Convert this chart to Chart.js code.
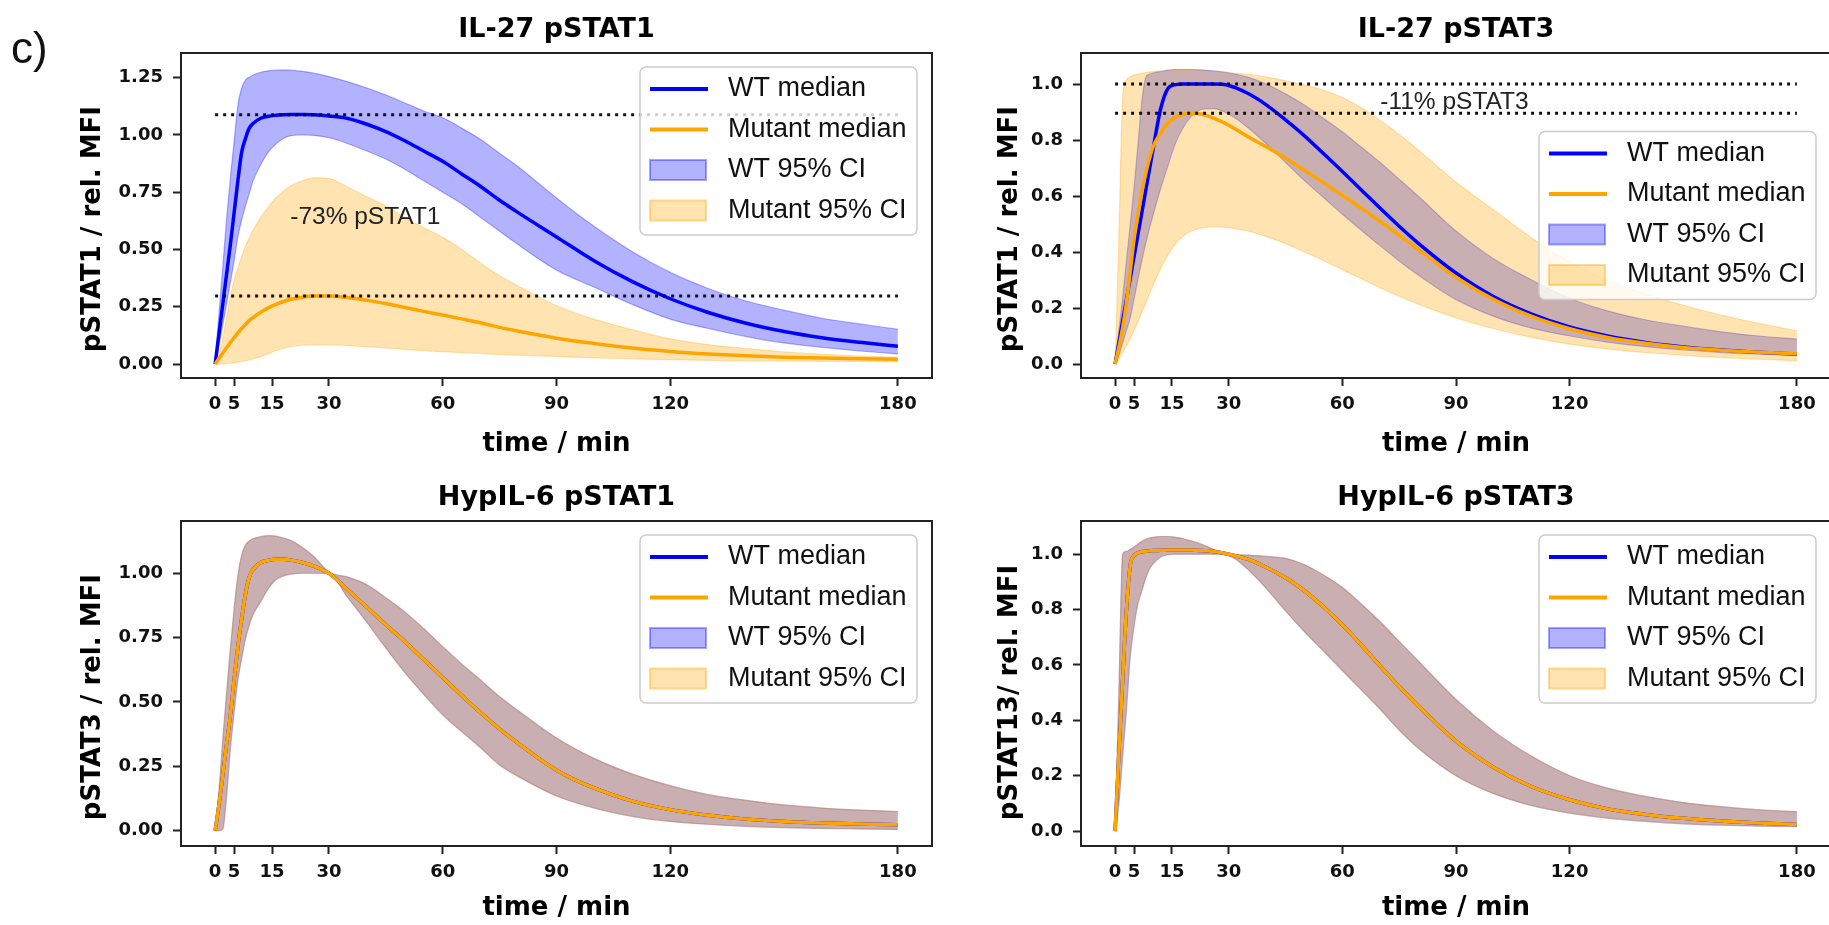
<!DOCTYPE html>
<html>
<head>
<meta charset="utf-8">
<script src="https://cdn.jsdelivr.net/npm/chart.js@4.4.0/dist/chart.umd.min.js"></script>
<style>
  body { margin: 0; background: #fff; overflow: hidden; }
  #fig { position: relative; width: 1829px; height: 925px; overflow: hidden; background: #fff; }
  #fig canvas { position: absolute; }
  #tag { position: absolute; left: 11px; top: 26px; font: 44px 'Liberation Sans', Arial, sans-serif; line-height: 44px; color: #111; }
</style>
</head>
<body>
<div id="fig">
  <canvas id="tl" width="940" height="468" style="left:0;top:0"></canvas>
  <canvas id="tr" width="893" height="468" style="left:940px;top:0"></canvas>
  <canvas id="bl" width="940" height="457" style="left:0;top:468px"></canvas>
  <canvas id="br" width="893" height="457" style="left:940px;top:468px"></canvas>
  <div id="tag">c)</div>
</div>
<script>
// sample times (min)
const time = [0, 1, 2, 3, 4, 5, 6, 7, 8, 9, 10, 12, 14, 16, 18, 20, 23, 26, 30,
  35, 40, 45, 50, 55, 60, 65, 70, 75, 80, 90, 100, 110, 120, 130, 140, 150, 160, 170, 180];
const xTicks = [0, 5, 15, 30, 60, 90, 120, 180];
const legendLabels = ['WT median', 'Mutant median', 'WT 95% CI', 'Mutant 95% CI'];

// IL-27 pSTAT1
const il27s1WtMed = [0, 0.13, 0.26, 0.39, 0.52, 0.66, 0.80, 0.925, 0.985, 1.03, 1.05, 1.073, 1.082, 1.086, 1.088, 1.089, 1.089, 1.088, 1.083,
  1.072, 1.047, 1.015, 0.975, 0.93, 0.885, 0.83, 0.775, 0.715, 0.66, 0.555, 0.45, 0.36, 0.285, 0.225, 0.178, 0.142, 0.115, 0.095, 0.078];
const il27s1WtHi = [0, 0.22, 0.42, 0.63, 0.81, 0.97, 1.13, 1.205, 1.24, 1.252, 1.262, 1.274, 1.28, 1.283, 1.284, 1.283, 1.278, 1.27, 1.255,
  1.232, 1.205, 1.175, 1.14, 1.105, 1.075, 1.03, 0.98, 0.92, 0.86, 0.725, 0.6, 0.49, 0.40, 0.33, 0.275, 0.235, 0.2, 0.175, 0.152];
const il27s1WtLo = [0, 0.08, 0.17, 0.26, 0.355, 0.45, 0.555, 0.63, 0.69, 0.745, 0.80, 0.87, 0.925, 0.96, 0.985, 0.997, 1.0, 0.998, 0.988,
  0.962, 0.93, 0.895, 0.85, 0.80, 0.75, 0.70, 0.64, 0.58, 0.52, 0.41, 0.335, 0.26, 0.196, 0.155, 0.12, 0.092, 0.073, 0.057, 0.044];
const il27s1MutMed = [0, 0.024, 0.048, 0.071, 0.094, 0.115, 0.136, 0.155, 0.173, 0.19, 0.203, 0.226, 0.245, 0.26, 0.273, 0.283, 0.292, 0.297, 0.297,
  0.29, 0.278, 0.264, 0.247, 0.23, 0.214, 0.197, 0.18, 0.16, 0.143, 0.113, 0.09, 0.07, 0.055, 0.044, 0.036, 0.03, 0.026, 0.023, 0.021];
const il27s1MutHi = [0, 0.04, 0.11, 0.2, 0.29, 0.365, 0.42, 0.47, 0.515, 0.55, 0.585, 0.64, 0.685, 0.725, 0.755, 0.778, 0.80, 0.813, 0.81,
  0.772, 0.73, 0.69, 0.64, 0.595, 0.553, 0.50, 0.44, 0.385, 0.34, 0.255, 0.195, 0.15, 0.11, 0.085, 0.068, 0.053, 0.043, 0.035, 0.029];
const il27s1MutLo = [0, 0, 0.001, 0.002, 0.004, 0.006, 0.008, 0.011, 0.014, 0.018, 0.022, 0.032, 0.045, 0.058, 0.068, 0.076, 0.082, 0.085, 0.085,
  0.08, 0.075, 0.07, 0.064, 0.058, 0.054, 0.05, 0.046, 0.042, 0.039, 0.033, 0.027, 0.023, 0.019, 0.016, 0.014, 0.013, 0.012, 0.011, 0.01];

// IL-27 pSTAT3
const il27s3WtMed = [0, 0.077, 0.153, 0.23, 0.306, 0.383, 0.46, 0.536, 0.613, 0.69, 0.765, 0.91, 0.985, 0.998, 1.0, 1.0, 1.0, 1.0, 0.995,
  0.967, 0.925, 0.872, 0.815, 0.752, 0.688, 0.622, 0.556, 0.492, 0.432, 0.325, 0.24, 0.178, 0.132, 0.1, 0.077, 0.061, 0.05, 0.042, 0.036];
const il27s3WtHi = [0, 0.12, 0.24, 0.37, 0.5, 0.63, 0.78, 0.93, 1.02, 1.035, 1.04, 1.045, 1.05, 1.052, 1.052, 1.052, 1.05, 1.047, 1.04,
  1.025, 1.0, 0.965, 0.925, 0.878, 0.83, 0.775, 0.72, 0.66, 0.60, 0.475, 0.375, 0.30, 0.235, 0.19, 0.158, 0.135, 0.115, 0.1, 0.089];
const il27s3WtLo = [0, 0.03, 0.075, 0.12, 0.165, 0.23, 0.3, 0.365, 0.425, 0.48, 0.53, 0.625, 0.71, 0.79, 0.845, 0.882, 0.91, 0.912, 0.892,
  0.845, 0.785, 0.72, 0.655, 0.595, 0.535, 0.478, 0.422, 0.368, 0.318, 0.23, 0.17, 0.128, 0.1, 0.078, 0.062, 0.05, 0.041, 0.035, 0.03];
const il27s3MutMed = [0, 0.06, 0.13, 0.22, 0.33, 0.445, 0.53, 0.61, 0.675, 0.73, 0.775, 0.825, 0.862, 0.882, 0.892, 0.896, 0.892, 0.878, 0.853,
  0.813, 0.775, 0.735, 0.692, 0.648, 0.603, 0.557, 0.509, 0.46, 0.41, 0.31, 0.23, 0.17, 0.126, 0.095, 0.074, 0.059, 0.049, 0.042, 0.037];
const il27s3MutHi = [0, 0.45, 0.95, 1.015, 1.025, 1.032, 1.036, 1.039, 1.041, 1.043, 1.045, 1.047, 1.048, 1.05, 1.05, 1.05, 1.048, 1.045, 1.04,
  1.035, 1.025, 1.012, 0.997, 0.978, 0.952, 0.915, 0.87, 0.82, 0.765, 0.65, 0.55, 0.45, 0.365, 0.3, 0.25, 0.21, 0.175, 0.145, 0.119];
const il27s3MutLo = [0, 0.018, 0.04, 0.065, 0.09, 0.12, 0.15, 0.183, 0.215, 0.248, 0.28, 0.34, 0.39, 0.43, 0.457, 0.474, 0.486, 0.49, 0.487,
  0.475, 0.455, 0.43, 0.4, 0.37, 0.337, 0.305, 0.272, 0.242, 0.214, 0.165, 0.126, 0.095, 0.071, 0.054, 0.041, 0.031, 0.023, 0.017, 0.012];

// HypIL-6 pSTAT1 (WT and mutant coincide)
const hyp6s1Med = [0, 0.1, 0.215, 0.335, 0.446, 0.585, 0.715, 0.825, 0.92, 0.985, 1.015, 1.042, 1.05, 1.054, 1.054, 1.051, 1.042, 1.028, 1.0,
  0.935, 0.868, 0.8, 0.735, 0.665, 0.595, 0.525, 0.458, 0.395, 0.338, 0.235, 0.165, 0.115, 0.082, 0.06, 0.045, 0.036, 0.03, 0.026, 0.023];
const hyp6s1Hi = [0, 0.15, 0.35, 0.53, 0.705, 0.86, 0.99, 1.07, 1.11, 1.125, 1.134, 1.142, 1.146, 1.144, 1.137, 1.127, 1.1, 1.065, 1.005,
  0.985, 0.955, 0.905, 0.85, 0.785, 0.715, 0.648, 0.585, 0.52, 0.465, 0.36, 0.28, 0.22, 0.175, 0.14, 0.118, 0.1, 0.088, 0.08, 0.074];
const hyp6s1Lo = [0, 0, 0.006, 0.13, 0.316, 0.46, 0.585, 0.67, 0.745, 0.8, 0.84, 0.89, 0.94, 0.975, 0.99, 0.997, 1.0, 1.0, 0.998,
  0.905, 0.81, 0.71, 0.615, 0.53, 0.45, 0.385, 0.322, 0.255, 0.21, 0.135, 0.088, 0.056, 0.036, 0.025, 0.017, 0.012, 0.009, 0.007, 0.005];

// HypIL-6 pSTAT3 (WT and mutant coincide)
const hyp6s3Med = [0, 0.28, 0.55, 0.8, 0.96, 0.995, 1.005, 1.009, 1.011, 1.012, 1.013, 1.014, 1.015, 1.015, 1.015, 1.015, 1.013, 1.01, 1.0,
  0.982, 0.952, 0.915, 0.868, 0.81, 0.745, 0.672, 0.596, 0.522, 0.452, 0.325, 0.23, 0.16, 0.113, 0.08, 0.06, 0.046, 0.036, 0.029, 0.024];
const hyp6s3Hi = [0, 0.5, 1.0, 1.01, 1.018, 1.026, 1.036, 1.046, 1.053, 1.058, 1.061, 1.064, 1.064, 1.061, 1.056, 1.048, 1.035, 1.018, 1.0,
  0.997, 0.992, 0.985, 0.962, 0.925, 0.88, 0.82, 0.755, 0.685, 0.615, 0.475, 0.36, 0.27, 0.2, 0.155, 0.125, 0.103, 0.088, 0.077, 0.07];
const hyp6s3Lo = [0, 0.1, 0.27, 0.44, 0.63, 0.74, 0.82, 0.865, 0.91, 0.945, 0.965, 0.99, 0.998, 1.0, 1.0, 1.0, 1.0, 1.0, 0.995,
  0.946, 0.875, 0.795, 0.72, 0.65, 0.58, 0.51, 0.44, 0.365, 0.3, 0.2, 0.135, 0.092, 0.065, 0.047, 0.035, 0.026, 0.021, 0.018, 0.016];

// reference levels (dotted) and y tick labels
const il27s1Levels = [1.088, 0.297];
const il27s3Levels = [1.0, 0.896];
const yTicksQuarter = [0, 0.25, 0.5, 0.75, 1.0, 1.25];
const yTicksFifth = [0, 0.2, 0.4, 0.6, 0.8, 1.0];

const BLUE = '#0000ff', ORANGE = '#ffa500';
const BLUE_A = 'rgba(0,0,255,0.3)', ORANGE_A = 'rgba(255,165,0,0.3)';
const tickFont = { family: "'DejaVu Sans', sans-serif", size: 18, weight: 'bold' };
const labelFont = { family: "'DejaVu Sans', sans-serif", size: 26, weight: 'bold' };

const pts = vals => time.map((t, i) => ({ x: t, y: vals[i] }));
const level = v => [{ x: 0, y: v }, { x: 180, y: v }];

// frame, text note and legend drawn on top of the data
const panelDecor = {
  id: 'panelDecor',
  afterDatasetsDraw(chart, args, opts) {
    const { ctx, chartArea: a, scales: { x, y } } = chart;
    ctx.save();
    ctx.strokeStyle = '#222';
    ctx.lineWidth = 2;
    ctx.strokeRect(a.left, a.top, a.right - a.left, a.bottom - a.top);

    if (opts.note) {
      ctx.font = "24.5px 'Liberation Sans', Arial, sans-serif";
      ctx.fillStyle = '#222';
      ctx.textAlign = 'left';
      ctx.textBaseline = 'middle';
      ctx.fillText(opts.note.text, x.getPixelForValue(opts.note.x), y.getPixelForValue(opts.note.y));
    }

    const w = 277, h = 168;
    const lx = a.right - 15 - w;
    const ly = opts.legendAt === 'center' ? (a.top + a.bottom) / 2 - h / 2 : a.top + 14;
    ctx.beginPath();
    ctx.roundRect(lx, ly, w, h, 6);
    ctx.fillStyle = 'rgba(255,255,255,0.8)';
    ctx.fill();
    ctx.strokeStyle = '#cccccc';
    ctx.lineWidth = 1.5;
    ctx.stroke();

    const marks = [
      { line: BLUE }, { line: ORANGE },
      { fill: BLUE_A, edge: 'rgba(0,0,255,0.35)' }, { fill: ORANGE_A, edge: 'rgba(255,165,0,0.4)' }
    ];
    legendLabels.forEach((label, i) => {
      const cy = ly + 22 + i * 40.5;
      const m = marks[i];
      if (m.line) {
        ctx.strokeStyle = m.line;
        ctx.lineWidth = 4;
        ctx.beginPath();
        ctx.moveTo(lx + 10, cy);
        ctx.lineTo(lx + 68, cy);
        ctx.stroke();
      } else {
        ctx.fillStyle = m.fill;
        ctx.fillRect(lx + 10, cy - 10, 56, 20);
        ctx.strokeStyle = m.edge;
        ctx.lineWidth = 2;
        ctx.strokeRect(lx + 10, cy - 10, 56, 20);
      }
      ctx.fillStyle = '#111';
      ctx.font = "27px 'Liberation Sans', Arial, sans-serif";
      ctx.textAlign = 'left';
      ctx.textBaseline = 'middle';
      ctx.fillText(label, lx + 88, cy);
    });
    ctx.restore();
  }
};

function makePanel(id, p) {
  const datasets = [
    { label: 'WT median', data: pts(p.wtMed), borderColor: BLUE, borderWidth: 3.5, order: 1 },
    { label: 'Mutant median', data: pts(p.mutMed), borderColor: ORANGE, borderWidth: 3.5, order: 0 },
    { label: 'WT 95% CI', data: pts(p.wtHi), borderColor: BLUE_A, borderWidth: 1.2, backgroundColor: BLUE_A, fill: 3, order: 3 },
    { label: 'WT 95% CI low', data: pts(p.wtLo), borderColor: BLUE_A, borderWidth: 1.2, order: 3 },
    { label: 'Mutant 95% CI', data: pts(p.mutHi), borderColor: ORANGE_A, borderWidth: 1.2, backgroundColor: ORANGE_A, fill: 5, order: 2 },
    { label: 'Mutant 95% CI low', data: pts(p.mutLo), borderColor: ORANGE_A, borderWidth: 1.2, order: 2 }
  ];
  (p.levels || []).forEach(v => datasets.push({
    data: level(v), borderColor: '#111', borderWidth: 3, borderDash: [3, 5],
    cubicInterpolationMode: 'default', tension: 0, order: -1
  }));

  new Chart(document.getElementById(id), {
    type: 'line',
    data: { datasets },
    plugins: [panelDecor],
    options: {
      responsive: false,
      animation: false,
      events: [],
      layout: { padding: { right: p.padRight } },
      elements: {
        point: { radius: 0 },
        line: { cubicInterpolationMode: 'monotone', fill: false }
      },
      plugins: {
        legend: { display: false },
        tooltip: { enabled: false },
        title: {
          display: true, text: p.title, fullSize: false, color: '#000',
          font: { family: "'DejaVu Sans', sans-serif", size: 27, weight: 'bold' },
          padding: { top: 14, bottom: 6.6 }
        },
        panelDecor: { note: p.note, legendAt: p.legendAt }
      },
      scales: {
        x: {
          type: 'linear', min: -9, max: 189, bounds: 'data',
          afterBuildTicks: s => { s.ticks = xTicks.map(v => ({ value: v })); },
          afterFit: s => { s.height = p.xAxisH; },
          ticks: { autoSkip: false, maxRotation: 0, minRotation: 0, padding: 8, color: '#111', font: tickFont, callback: v => String(v) },
          grid: { drawOnChartArea: false, drawTicks: true, tickLength: 8, tickWidth: 2, tickColor: '#222' },
          border: { display: false },
          title: { display: true, text: 'time / min', color: '#000', font: labelFont, padding: { top: 0, bottom: p.xTitlePad } }
        },
        y: {
          type: 'linear', min: p.yMin, max: p.yMax, bounds: 'data',
          afterBuildTicks: s => { s.ticks = p.yTicks.map(v => ({ value: v })); },
          afterFit: s => { s.width = p.yAxisW; },
          ticks: { padding: 10, color: '#111', font: tickFont, callback: v => v.toFixed(p.yDec) },
          grid: { drawOnChartArea: false, drawTicks: true, tickLength: 8, tickWidth: 2, tickColor: '#222' },
          border: { display: false },
          title: { display: true, text: p.yLabel, color: '#000', font: labelFont, padding: { top: p.yTitlePad, bottom: 0 } }
        }
      }
    }
  });
}

makePanel('tl', {
  title: 'IL-27 pSTAT1', yLabel: 'pSTAT1 / rel. MFI   ',
  wtMed: il27s1WtMed, wtHi: il27s1WtHi, wtLo: il27s1WtLo,
  mutMed: il27s1MutMed, mutHi: il27s1MutHi, mutLo: il27s1MutLo,
  levels: il27s1Levels, note: { text: '-73% pSTAT1', x: 19.8, y: 0.64 },
  yMin: -0.061, yMax: 1.358, yTicks: yTicksQuarter, yDec: 2,
  legendAt: 'upper', padRight: 8, yAxisW: 181, yTitlePad: 78, xAxisH: 90, xTitlePad: 8.4
});
makePanel('tr', {
  title: 'IL-27 pSTAT3', yLabel: 'pSTAT1 / rel. MFI   ',
  wtMed: il27s3WtMed, wtHi: il27s3WtHi, wtLo: il27s3WtLo,
  mutMed: il27s3MutMed, mutHi: il27s3MutHi, mutLo: il27s3MutLo,
  levels: il27s3Levels, note: { text: '-11% pSTAT3', x: 70, y: 0.936 },
  yMin: -0.05, yMax: 1.111, yTicks: yTicksFifth, yDec: 1,
  legendAt: 'center', padRight: 2, yAxisW: 141, yTitlePad: 55, xAxisH: 90, xTitlePad: 8.4
});
makePanel('bl', {
  title: 'HypIL-6 pSTAT1', yLabel: 'pSTAT3 / rel. MFI   ',
  wtMed: hyp6s1Med, wtHi: hyp6s1Hi, wtLo: hyp6s1Lo,
  mutMed: hyp6s1Med, mutHi: hyp6s1Hi, mutLo: hyp6s1Lo,
  yMin: -0.0594, yMax: 1.203, yTicks: yTicksQuarter.slice(0, 5), yDec: 2,
  legendAt: 'upper', padRight: 8, yAxisW: 181, yTitlePad: 78, xAxisH: 79, xTitlePad: 1.4
});
makePanel('br', {
  title: 'HypIL-6 pSTAT3', yLabel: 'pSTAT13/ rel. MFI  ',
  wtMed: hyp6s3Med, wtHi: hyp6s3Hi, wtLo: hyp6s3Lo,
  mutMed: hyp6s3Med, mutHi: hyp6s3Hi, mutLo: hyp6s3Lo,
  yMin: -0.054, yMax: 1.12, yTicks: yTicksFifth, yDec: 1,
  legendAt: 'upper', padRight: 2, yAxisW: 141, yTitlePad: 55, xAxisH: 79, xTitlePad: 1.4
});
</script>
</body>
</html>
